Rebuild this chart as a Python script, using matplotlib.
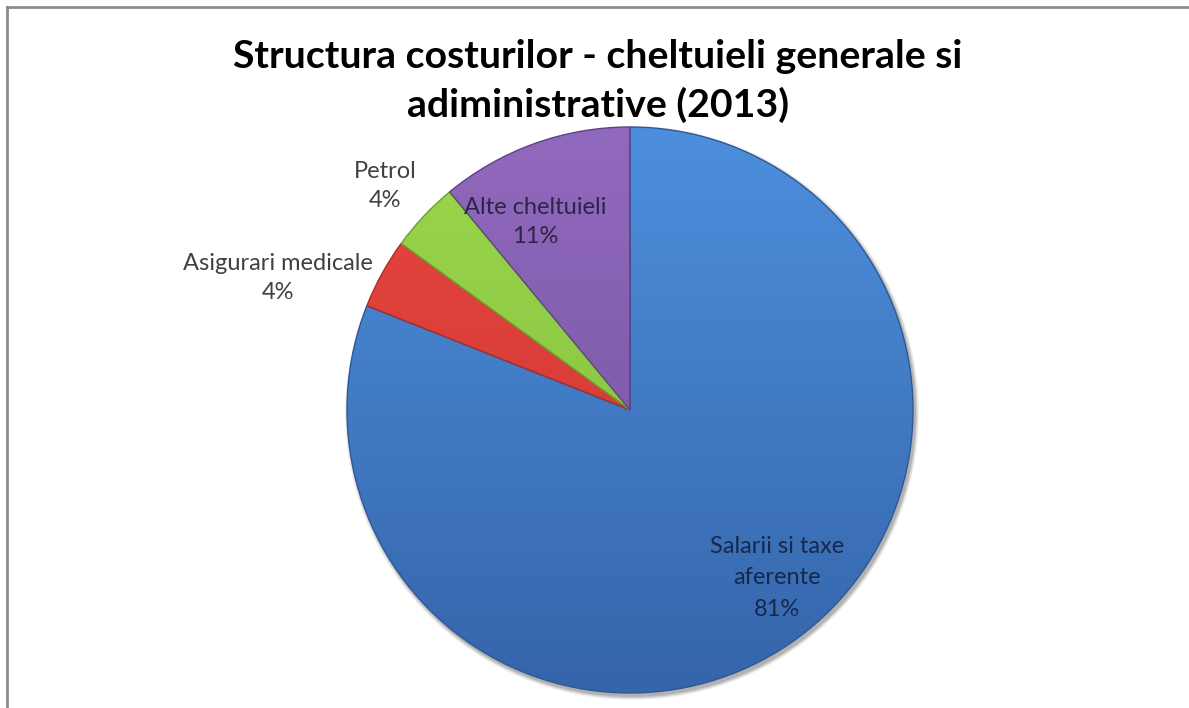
import matplotlib
matplotlib.use("Agg")
import matplotlib.pyplot as plt
import numpy as np
from matplotlib.colors import to_rgb
from matplotlib.lines import Line2D

# Chart data
categories = ["Salarii si taxe\naferente", "Asigurari medicale", "Petrol", "Alte cheltuieli"]
shares = [81, 4, 4, 11]
top_colors = ["#4d8fdc", "#e8463f", "#9ad84c", "#9169bd"]
bottom_colors = ["#3565aa", "#c93530", "#80b83a", "#70509c"]
edge_colors = ["#2e5896", "#a8302c", "#6f9e33", "#5e4388"]
title = "Structura costurilor - cheltuieli generale si\nadiministrative (2013)"

W, H = 1189, 708
fig = plt.figure(figsize=(W / 100, H / 100), dpi=100)
ax = fig.add_axes([0, 0, 1, 1])
ax.set_xlim(0, W)
ax.set_ylim(0, H)
ax.set_axis_off()

cx, cy, r = 630, H - 410, 283

# soft shadow under the pie
for k, a in enumerate([0.05, 0.07, 0.09, 0.12]):
    ax.add_patch(plt.Circle((cx + 2, cy - 3), r + 4 - k, color="#000000", alpha=a, lw=0, zorder=1))

wedges, _ = ax.pie(shares, startangle=90, counterclock=False, center=(cx, cy),
                   radius=r, frame=True,
                   wedgeprops=dict(linewidth=1.0), normalize=True)
ax.set_xlim(0, W)
ax.set_ylim(0, H)
ax.set_aspect("equal")
ax.set_axis_off()

# vertical gradient inside each wedge
ny = 200
t = np.linspace(0, 1, ny)[:, None]
for w, c0, c1, ec in zip(wedges, top_colors, bottom_colors, edge_colors):
    c0 = np.array(to_rgb(c0))
    c1 = np.array(to_rgb(c1))
    grad = (c0[None, :] * (1 - t) + c1[None, :] * t)[:, None, :]
    grad = np.repeat(grad, 2, axis=1)
    w.set_facecolor("none")
    w.set_edgecolor(ec)
    w.set_zorder(3)
    im = ax.imshow(grad, extent=(cx - r, cx + r, cy - r, cy + r), origin="upper",
                   aspect="auto", zorder=2, interpolation="bilinear")
    im.set_clip_path(w)

font = "Lato"
ax.text(598, H - 81, title, ha="center", va="center", fontsize=28.3, fontweight="bold",
        family=font, color="#000000", linespacing=1.4)

label_color = "#404040"
lab = dict(ha="center", va="center", fontsize=17, family=font, linespacing=1.5, zorder=5)
ax.text(777, H - 578, f"{categories[0]}\n{shares[0]}%", color="#17284a",
        **{**lab, "linespacing": 1.6})
ax.text(278, H - 278, f"{categories[1]}\n{shares[1]}%", color=label_color, **lab)
ax.text(385, H - 186, f"{categories[2]}\n{shares[2]}%", color=label_color, **lab)
ax.text(535, H - 222, f"{categories[3]}\n{shares[3]}%", color="#2f2347", **lab)

# outer frame (top and left edges visible)
fig.add_artist(Line2D([7 / W, 1], [1 - 7 / H, 1 - 7 / H], color="#8c8c8c", lw=2))
fig.add_artist(Line2D([7 / W, 7 / W], [0, 1 - 7 / H], color="#8c8c8c", lw=2))

fig.savefig("out.png", dpi=100)
